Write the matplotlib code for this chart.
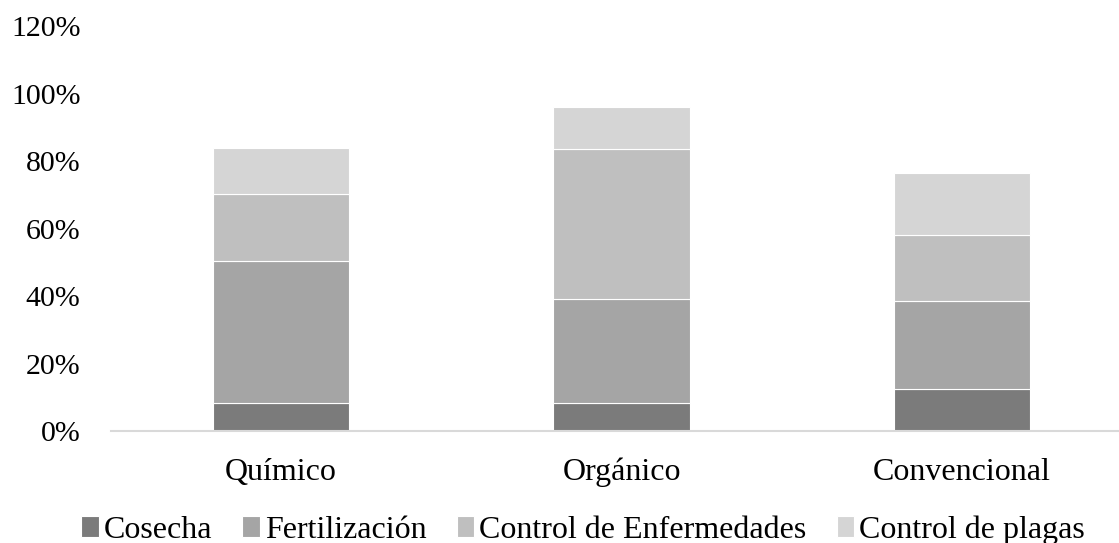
import matplotlib
matplotlib.use('Agg')
import matplotlib.pyplot as plt
import numpy as np
from matplotlib.ticker import PercentFormatter

plt.rcParams['font.family'] = ['Liberation Serif', 'DejaVu Serif']

categories = ["Químico", "Orgánico", "Convencional"]
series = ["Cosecha", "Fertilización", "Control de Enfermedades", "Control de plagas"]
cosecha = [0.085, 0.083, 0.125]
fertilizacion = [0.420, 0.309, 0.261]
enfermedades = [0.199, 0.443, 0.196]
plagas = [0.136, 0.126, 0.184]
colors = ["#7b7b7b", "#a5a5a5", "#bfbfbf", "#d5d5d5"]

fig = plt.figure(figsize=(11.19, 5.43), dpi=100)
ax = fig.add_axes([111 / 1119, 111.7 / 543, 1021 / 1119, 405 / 543])

x = np.arange(len(categories))
bottom = np.zeros(len(categories))
for name, vals, col in zip(series, [cosecha, fertilizacion, enfermedades, plagas], colors):
    ax.bar(x, vals, 0.4, bottom=bottom, color=col, edgecolor="white",
           linewidth=0.8, label=name)
    bottom += np.array(vals)

ax.set_xlim(-0.5, 2.5)
ax.set_ylim(0, 1.2)
ax.set_yticks(np.arange(0, 1.21, 0.2))
ax.yaxis.set_major_formatter(PercentFormatter(1.0, decimals=0))
ax.set_xticks(x)
ax.set_xticklabels(categories)
ax.tick_params(axis="both", length=0)
ax.tick_params(axis="y", labelsize=21.5, pad=22)
ax.tick_params(axis="x", labelsize=23, pad=19)

for s in ["top", "right", "left"]:
    ax.spines[s].set_visible(False)
ax.spines["bottom"].set_color("#d9d9d9")
ax.spines["bottom"].set_linewidth(1.5)

fig.legend(loc="center", bbox_to_anchor=(583 / 1119, 13 / 543), ncol=4, frameon=False,
           fontsize=23, handlelength=0.55, handleheight=0.6, handletextpad=0.15,
           columnspacing=0.95, borderpad=0)

fig.savefig("out.png", dpi=100, facecolor="white")
